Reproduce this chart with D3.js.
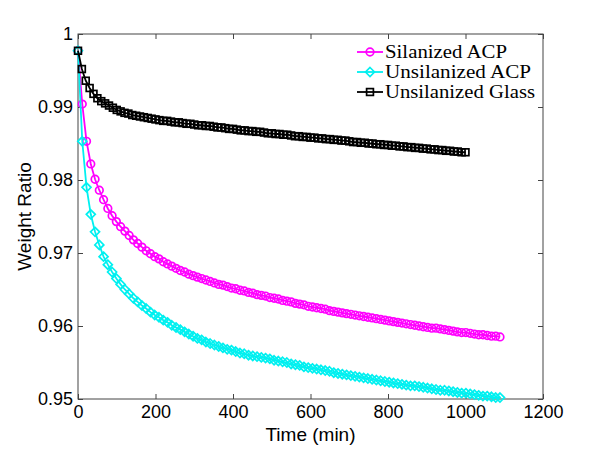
<!DOCTYPE html>
<html>
<head>
<meta charset="utf-8">
<script src="https://cdn.jsdelivr.net/npm/d3@7"></script>
<style>
html,body{margin:0;padding:0;background:#fff;}
svg{display:block;}
</style>
</head>
<body>
<div id="chart"></div>
<script>
// ---- data ----
const seriesNames = ["Silanized ACP", "Unsilanized ACP", "Unsilanized Glass"];

const timeACP = [0,11,22,33,44,55,66,77,88,99,110,121,132,143,154,165,176,187,198,209,
220,231,242,253,264,275,286,297,308,319,330,341,352,363,374,385,396,407,418,429,
440,451,462,473,484,495,506,517,528,539,550,561,572,583,594,605,616,627,638,649,
660,671,682,693,704,715,726,737,748,759,770,781,792,803,814,825,836,847,858,869,
880,891,902,913,924,935,946,957,968,979,990,1001,1012,1023,1034,1045,1056,1067,1078,1089];

const silanizedACP = [0.9977,0.9904,0.9853,0.9822,0.9801,0.9786,0.9773,0.9761,0.9751,0.9743,
0.9736,0.9730,0.9724,0.9718,0.9713,0.9708,0.9703,0.9699,0.9695,0.9692,
0.9688,0.9685,0.9682,0.9679,0.9676,0.9674,0.9671,0.9669,0.9667,0.9665,
0.9663,0.9661,0.9659,0.9657,0.9656,0.9654,0.9652,0.9651,0.9649,0.9648,
0.9646,0.9645,0.9643,0.9642,0.9641,0.9639,0.9638,0.9637,0.9635,0.9634,
0.9633,0.9631,0.9630,0.9629,0.9627,0.9626,0.9625,0.9624,0.9623,0.9621,
0.9620,0.9619,0.9618,0.9617,0.9616,0.9615,0.9614,0.9613,0.9612,0.9611,
0.9610,0.9609,0.9608,0.9607,0.9606,0.9605,0.9604,0.9603,0.9602,0.9601,
0.9600,0.9599,0.9598,0.9597,0.9597,0.9596,0.9595,0.9594,0.9593,0.9592,
0.9591,0.9591,0.9590,0.9589,0.9588,0.9588,0.9587,0.9586,0.9586,0.9585];

const unsilanizedACP = [0.9977,0.9853,0.9790,0.9753,0.9729,0.9711,0.9695,0.9684,0.9674,0.9665,
0.9657,0.9650,0.9644,0.9638,0.9633,0.9628,0.9624,0.9619,0.9615,0.9612,
0.9608,0.9605,0.9601,0.9598,0.9595,0.9592,0.9589,0.9586,0.9583,0.9581,
0.9578,0.9576,0.9574,0.9572,0.9570,0.9568,0.9567,0.9565,0.9563,0.9562,
0.9560,0.9559,0.9558,0.9557,0.9556,0.9555,0.9553,0.9552,0.9551,0.9550,
0.9548,0.9547,0.9546,0.9544,0.9543,0.9542,0.9541,0.9540,0.9539,0.9538,
0.9536,0.9535,0.9534,0.9533,0.9532,0.9531,0.9530,0.9529,0.9528,0.9527,
0.9526,0.9525,0.9524,0.9523,0.9522,0.9521,0.9520,0.9519,0.9518,0.9518,
0.9517,0.9516,0.9515,0.9514,0.9513,0.9512,0.9512,0.9511,0.9510,0.9509,
0.9508,0.9508,0.9507,0.9506,0.9505,0.9504,0.9504,0.9503,0.9502,0.9502];

const timeGlass = [0,10,20,30,40,50,60,70,80,90,100,110,120,130,140,150,160,170,180,190,
200,210,220,230,240,250,260,270,280,290,300,310,320,330,340,350,360,370,380,390,
400,410,420,430,440,450,460,470,480,490,500,510,520,530,540,550,560,570,580,590,
600,610,620,630,640,650,660,670,680,690,700,710,720,730,740,750,760,770,780,790,
800,810,820,830,840,850,860,870,880,890,900,910,920,930,940,950,960,970,980,990,1000];

const unsilanizedGlass = [0.9977,0.9952,0.9936,0.9926,0.9918,0.9912,0.9908,0.9905,0.9902,0.9899,
0.9896,0.9894,0.9892,0.9891,0.9889,0.9888,0.9887,0.9886,0.9885,0.9884,
0.9883,0.9882,0.9881,0.9881,0.9880,0.9879,0.9879,0.9878,0.9877,0.9877,
0.9876,0.9875,0.9875,0.9874,0.9874,0.9873,0.9872,0.9872,0.9871,0.9870,
0.9870,0.9869,0.9868,0.9868,0.9867,0.9867,0.9866,0.9866,0.9865,0.9864,
0.9864,0.9863,0.9863,0.9862,0.9862,0.9861,0.9860,0.9860,0.9859,0.9859,
0.9858,0.9858,0.9857,0.9857,0.9856,0.9856,0.9855,0.9855,0.9854,0.9854,
0.9853,0.9852,0.9852,0.9851,0.9851,0.9850,0.9850,0.9849,0.9849,0.9848,
0.9848,0.9847,0.9847,0.9846,0.9846,0.9845,0.9845,0.9844,0.9844,0.9843,
0.9843,0.9842,0.9842,0.9841,0.9841,0.9840,0.9840,0.9839,0.9839,0.9838,0.9838];

const xTickValues = [0,200,400,600,800,1000,1200];
const xTickLabels = ["0","200","400","600","800","1000","1200"];
const yTickValues = [0.95,0.96,0.97,0.98,0.99,1];
const yTickLabels = ["0.95","0.96","0.97","0.98","0.99","1"];

// ---- layout ----
const W = 600, H = 450;
const plot = {left: 78, right: 543, top: 34, bottom: 399};

const svg = d3.select("#chart").append("svg")
  .attr("width", W).attr("height", H)
  .style("background", "#fff");

const x = d3.scaleLinear().domain([0, 1200]).range([plot.left, plot.right]);
const y = d3.scaleLinear().domain([0.95, 1]).range([plot.bottom, plot.top]);

const axisColor = "#444";
const tickFont = "'Liberation Sans', Arial, Helvetica, sans-serif";
const tickFontSize = "18px";
const titleFontSize = "19px";

function styleAxis(g, showLabels) {
  g.select(".domain").remove();
  g.selectAll(".tick line").attr("stroke", axisColor).attr("stroke-width", 1);
  g.selectAll(".tick text")
    .attr("fill", "#000")
    .style("font-family", tickFont)
    .style("font-size", tickFontSize);
  if (!showLabels) g.selectAll(".tick text").remove();
}

// bottom axis
svg.append("g")
  .attr("transform", `translate(0,${plot.bottom})`)
  .call(d3.axisBottom(x).tickValues(xTickValues)
    .tickFormat((d, i) => xTickLabels[i]).tickSizeInner(-5).tickSizeOuter(0).tickPadding(6))
  .call(g => styleAxis(g, true));
// top axis
svg.append("g")
  .attr("transform", `translate(0,${plot.top})`)
  .call(d3.axisTop(x).tickValues(xTickValues).tickSizeInner(-5).tickSizeOuter(0))
  .call(g => styleAxis(g, false));
// left axis
svg.append("g")
  .attr("transform", `translate(${plot.left},0)`)
  .call(d3.axisLeft(y).tickValues(yTickValues)
    .tickFormat((d, i) => yTickLabels[i]).tickSizeInner(-5).tickSizeOuter(0).tickPadding(5))
  .call(g => styleAxis(g, true));
// right axis
svg.append("g")
  .attr("transform", `translate(${plot.right},0)`)
  .call(d3.axisRight(y).tickValues(yTickValues).tickSizeInner(-5).tickSizeOuter(0))
  .call(g => styleAxis(g, false));

// box
svg.append("rect")
  .attr("x", plot.left).attr("y", plot.top)
  .attr("width", plot.right - plot.left).attr("height", plot.bottom - plot.top)
  .attr("fill", "none").attr("stroke", axisColor).attr("stroke-width", 1);

// axis titles
svg.append("text")
  .attr("x", (plot.left + plot.right) / 2).attr("y", 440.5)
  .attr("text-anchor", "middle")
  .style("font-family", tickFont).style("font-size", titleFontSize)
  .text("Time (min)");
svg.append("text")
  .attr("transform", `translate(31,${(plot.top + plot.bottom) / 2}) rotate(-90)`)
  .attr("text-anchor", "middle")
  .style("font-family", tickFont).style("font-size", titleFontSize)
  .text("Weight Ratio");

// ---- series ----
const series = [
  {name: seriesNames[0], t: timeACP, v: silanizedACP, color: "#ff00ff", marker: "circle"},
  {name: seriesNames[1], t: timeACP, v: unsilanizedACP, color: "#00f0f0", marker: "diamond"},
  {name: seriesNames[2], t: timeGlass, v: unsilanizedGlass, color: "#000000", marker: "square"}
];

const line = d3.line().x(d => x(d[0])).y(d => y(d[1]));

function drawMarker(g, type, cx, cy, color) {
  if (type === "circle") {
    g.append("circle").attr("cx", cx).attr("cy", cy).attr("r", 3.8)
      .attr("fill", "none").attr("stroke", color).attr("stroke-width", 1.7);
  } else if (type === "diamond") {
    const r = 4.5;
    g.append("path")
      .attr("d", `M${cx},${cy - r}L${cx + r},${cy}L${cx},${cy + r}L${cx - r},${cy}Z`)
      .attr("fill", "none").attr("stroke", color).attr("stroke-width", 1.7);
  } else {
    const s = 6.8;
    g.append("rect").attr("x", cx - s / 2).attr("y", cy - s / 2)
      .attr("width", s).attr("height", s)
      .attr("fill", "none").attr("stroke", color).attr("stroke-width", 1.7);
  }
}

series.forEach(s => {
  const pts = s.t.map((t, i) => [t, s.v[i]]);
  const g = svg.append("g");
  g.append("path").datum(pts)
    .attr("d", line)
    .attr("fill", "none").attr("stroke", s.color).attr("stroke-width", 1.8);
  pts.forEach(p => drawMarker(g, s.marker, x(p[0]), y(p[1]), s.color));
});

// ---- legend ----
const legend = svg.append("g");
const legendWidths = [122, 146, 150];
series.forEach((s, i) => {
  const cy = 52 + i * 20;
  legend.append("line")
    .attr("x1", 357).attr("x2", 383).attr("y1", cy).attr("y2", cy)
    .attr("stroke", s.color).attr("stroke-width", 1.8);
  drawMarker(legend, s.marker, 370, cy, s.color);
  legend.append("text")
    .attr("x", 385).attr("y", cy + 6)
    .attr("textLength", legendWidths[i]).attr("lengthAdjust", "spacingAndGlyphs")
    .style("font-family", "'Liberation Serif', 'Times New Roman', serif")
    .style("font-size", "18px")
    .attr("fill", "#000")
    .text(s.name);
});
</script>
</body>
</html>
